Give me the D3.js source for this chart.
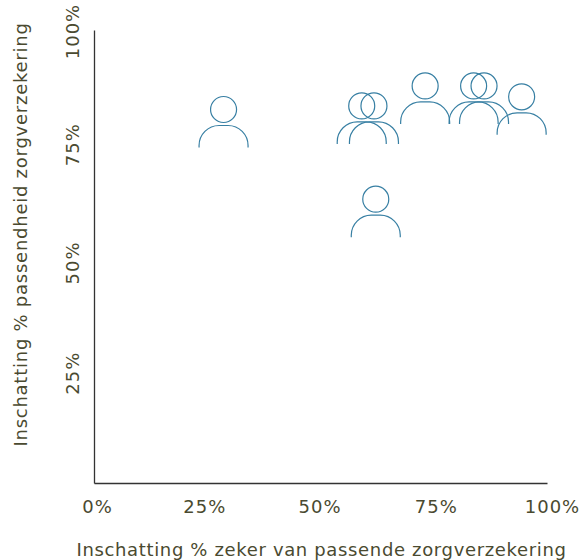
<!DOCTYPE html>
<html>
<head>
<meta charset="utf-8">
<script src="https://cdn.jsdelivr.net/npm/d3@7"></script>
<style>
  body { margin: 0; background: #fff; }
  text { font-family: "DejaVu Sans", sans-serif; fill: #4a4a30; }
</style>
</head>
<body>
<div id="plot"></div>
<script>
// Values
let zeker = [28.6, 59.1, 61.8, 62.2, 73.1, 83.8, 86.1, 94.4];
let passend = [79.8, 80.6, 80.6, 60, 85, 85, 85, 82.6];
let ticks = [0, 25, 50, 75, 100];

let width = 582, height = 560;
let margins = {top: 30, right: 35, bottom: 77, left: 94};

let svg = d3.select("#plot").append("svg")
    .attr("width", width)
    .attr("height", height);

let x_scale = d3.scaleLinear().domain([0, 100]).range([margins.left, width - margins.right]);
let y_scale = d3.scaleLinear().domain([0, 100]).range([height - margins.bottom, margins.top]);

// x axis
let x_axis = svg.append("g")
    .attr("transform", `translate(0,${height - margins.bottom})`)
    .call(d3.axisBottom(x_scale).tickValues(ticks).tickSize(0).tickPadding(17).tickFormat(d => d + "%"));

// the labels in the original are not quite centred on their ticks
let x_nudge = {0: 3, 25: -3, 50: -1, 75: 2, 100: 5};
x_axis.selectAll("text").attr("dx", d => x_nudge[d]);

// y axis, labels turned sideways
let y_axis = svg.append("g")
    .attr("transform", `translate(${margins.left},0)`)
    .call(d3.axisLeft(y_scale).tickValues(ticks.slice(1)).tickSize(0).tickFormat(d => d + "%"));

let y_nudge = {25: 3, 50: 6, 75: 1, 100: 1};
y_axis.selectAll("text")
    .attr("x", 0).attr("dy", 0)
    .attr("text-anchor", "middle")
    .attr("transform", d => `translate(-15,${y_nudge[d]}) rotate(-90)`);

svg.selectAll(".domain").attr("stroke", "#333").attr("stroke-width", 1.3);
svg.selectAll(".tick text").style("font-size", "18px").style("letter-spacing", "1px");

// axis titles
svg.append("text")
    .attr("x", 321.5).attr("y", 556)
    .attr("text-anchor", "middle")
    .style("font-size", "18px")
    .style("letter-spacing", "0.65px")
    .text("Inschatting % zeker van passende zorgverzekering");

svg.append("text")
    .attr("transform", "translate(27,234.5) rotate(-90)")
    .attr("text-anchor", "middle")
    .style("font-size", "18px")
    .style("letter-spacing", "0.75px")
    .text("Inschatting % passendheid zorgverzekering");

// one person icon per respondent
let person = "M-24.5,26 V24 A20,20 0 0 1 -4.5,4 H4.5 A20,20 0 0 1 24.5,24 V26 "
    + "M13,-12 A13,13 0 1 1 -13,-12 A13,13 0 1 1 13,-12";

svg.selectAll(".person")
    .data(zeker)
    .enter()
    .append("path")
    .attr("class", "person")
    .attr("d", person)
    .attr("transform", (d, i) => `translate(${x_scale(d)},${y_scale(passend[i])})`)
    .attr("fill", "none")
    .attr("stroke", "#377fa3")
    .attr("stroke-width", 1.2);
</script>
</body>
</html>
